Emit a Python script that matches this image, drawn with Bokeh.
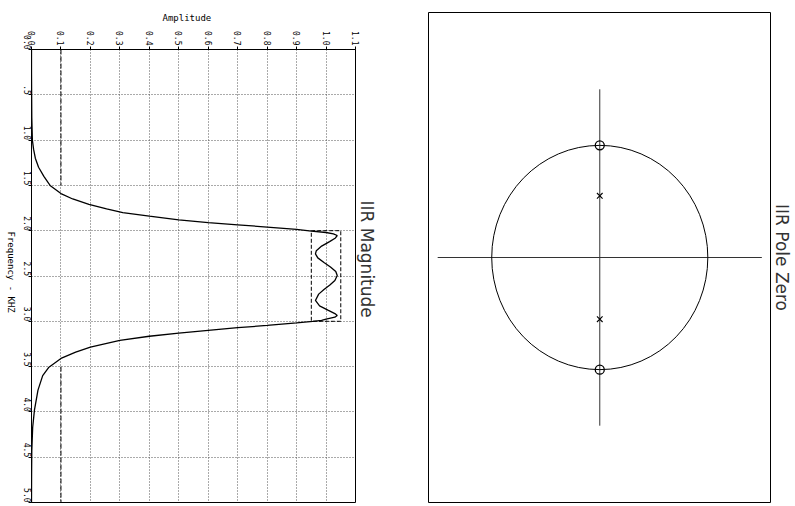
import math
from bokeh.plotting import figure
from bokeh.models import Range1d, FixedTicker, Title, PrintfTickFormatter
from bokeh.layouts import row
from bokeh.embed import file_html
from bokeh.resources import INLINE

# ---------------- data: IIR magnitude response ----------------
freq_khz = [0.0, 0.25, 0.5, 0.75, 1.0, 1.1, 1.2, 1.3, 1.4, 1.5,
            1.59, 1.65, 1.71, 1.76, 1.8, 1.84, 1.88, 1.91, 1.935, 1.96,
            1.985, 2.005, 2.02, 2.035, 2.053, 2.08, 2.12, 2.17, 2.22, 2.255,
            2.3, 2.35, 2.4, 2.45, 2.494, 2.55, 2.6, 2.65, 2.7, 2.77,
            2.83, 2.88, 2.915, 2.936, 2.955, 2.975, 2.99, 3.0, 3.017, 3.046,
            3.07, 3.1, 3.13, 3.165, 3.21, 3.285, 3.34, 3.41, 3.51, 3.6,
            3.76, 3.98, 4.17, 4.43, 4.7, 5.0]
amplitude = [0.0, 0.0, 0.0005, 0.001, 0.003, 0.007, 0.013, 0.024, 0.042, 0.063,
             0.10, 0.14, 0.195, 0.255, 0.31, 0.40, 0.50, 0.60, 0.70, 0.80,
             0.90, 0.95, 1.0, 1.025, 1.038, 1.032, 1.012, 0.985, 0.967, 0.964,
             0.972, 0.993, 1.015, 1.033, 1.038, 1.03, 1.013, 0.993, 0.975, 0.964,
             0.978, 1.008, 1.03, 1.038, 1.03, 1.0, 0.985, 0.955, 0.90, 0.80,
             0.70, 0.60, 0.50, 0.40, 0.30, 0.20, 0.15, 0.10, 0.058, 0.038,
             0.022, 0.010, 0.004, 0.001, 0.0003, 0.0]

# specification
stop_band_low = [0.0, 1.5]
stop_band_high = [3.5, 5.0]
stop_level = 0.1
pass_band = [2.0, 3.0]
pass_low = 0.95
pass_high = 1.05

amp_ticks = [0.0, 0.1, 0.2, 0.3, 0.4, 0.5, 0.6, 0.7, 0.8, 0.9, 1.0, 1.1]
freq_ticks = [0.0, 0.5, 1.0, 1.5, 2.0, 2.5, 3.0, 3.5, 4.0, 4.5, 5.0]
freq_tick_labels = ["0.0", ".5", "1.0", "1.5", "2.0", "2.5", "3.0", "3.5", "4.0", "4.5", "5.0"]

# ---------------- data: pole / zero ----------------
zeros_re = [1.0, -1.0]
zeros_im = [0.0, 0.0]
poles_re = [0.55, -0.55]
poles_im = [0.0, 0.0]
unit_radius = 1.0
axis_extent = 1.5

MONO = "DejaVu Sans Mono"
SANS = "DejaVu Sans"

# ---------------- strip carrying the rotated frequency-axis title ----------------
p0 = figure(width=17, height=506, x_range=Range1d(0, 1), y_range=Range1d(0, 1),
            x_axis_location=None, y_axis_location=None,
            output_backend="svg", toolbar_location=None,
            min_border_left=0, min_border_right=0, min_border_top=49, min_border_bottom=4)
p0.grid.visible = False
p0.outline_line_color = None
p0.add_layout(Title(text="Frequency - KHZ", align="left", offset=182, standoff=0,
                    text_font=MONO, text_font_size="9px", text_font_style="normal",
                    text_color="black"), "right")

# ---------------- left: magnitude (rotated page) ----------------
p1 = figure(width=403, height=506, x_range=Range1d(0, 1.1), y_range=Range1d(5.0, 0.0),
            x_axis_location="above", y_axis_location="left",
            output_backend="svg", toolbar_location=None,
            min_border_left=14, min_border_right=65, min_border_top=49, min_border_bottom=4)
p1.outline_line_color = "black"
p1.outline_line_width = 1

xa = p1.xaxis[0]
xa.ticker = FixedTicker(ticks=amp_ticks)
xa.formatter = PrintfTickFormatter(format="%.1f")
ya = p1.yaxis[0]
ya.ticker = FixedTicker(ticks=freq_ticks)
ya.major_label_overrides = dict(zip(freq_ticks, freq_tick_labels))
for ax in (xa, ya):
    ax.major_label_orientation = -math.pi / 2
    ax.major_label_text_font = MONO
    ax.major_label_text_font_size = "8px"
    ax.major_label_text_color = "black"
    ax.major_label_standoff = 1
    ax.major_tick_out = 3
    ax.major_tick_in = 0
    ax.minor_tick_line_color = None
    ax.axis_line_color = "black"
    ax.major_tick_line_color = "black"

p1.add_layout(Title(text="Amplitude", align="left", offset=131, standoff=11,
                    text_font=MONO, text_font_size="9px", text_font_style="normal",
                    text_color="black"), "above")

p1.xgrid.ticker = FixedTicker(ticks=amp_ticks)
p1.ygrid.ticker = FixedTicker(ticks=freq_ticks)
p1.grid.grid_line_color = "#555555"
p1.grid.grid_line_dash = "1 2"
p1.grid.grid_line_width = 1

p1.segment(x0=[stop_level, stop_level], y0=[stop_band_low[0], stop_band_high[0]],
           x1=[stop_level, stop_level], y1=[stop_band_low[1], stop_band_high[1]],
           line_color="black", line_dash="5 2", line_width=1)
p1.quad(left=[pass_low], right=[pass_high], top=[pass_band[0]], bottom=[pass_band[1]],
        fill_color=None, line_color="black", line_dash="4 2", line_width=1)
p1.line(amplitude, freq_khz, line_color="black", line_width=1.3)

p1.add_layout(Title(text="IIR Magnitude", align="left", offset=151, standoff=3,
                    text_font=SANS, text_font_size="17px", text_font_style="normal",
                    text_color="#333333"), "right")

# ---------------- right: pole-zero (rotated page) ----------------
p2 = figure(width=375, height=506, x_range=Range1d(-1.585, 1.58), y_range=Range1d(-2.185, 2.185),
            x_axis_location=None, y_axis_location=None,
            output_backend="svg", toolbar_location=None,
            min_border_left=8, min_border_right=25, min_border_top=12, min_border_bottom=4)
p2.grid.visible = False
p2.outline_line_color = "black"
p2.outline_line_width = 1

p2.segment(x0=[-axis_extent, 0.0], y0=[0.0, -axis_extent],
           x1=[axis_extent, 0.0], y1=[0.0, axis_extent],
           line_color="#333333", line_width=1)
p2.ellipse(x=[0.0], y=[0.0], width=[2 * unit_radius], height=[2 * unit_radius],
           fill_color=None, line_color="black", line_width=1)
p2.scatter(x=zeros_im, y=zeros_re, marker="circle", size=9,
           fill_color=None, line_color="black", line_width=1.3)
p2.scatter(x=poles_im, y=poles_re, marker="x", size=8,
           line_color="black", line_width=1.1)

p2.add_layout(Title(text="IIR Pole Zero", align="center", standoff=3,
                    text_font=SANS, text_font_size="17px", text_font_style="normal",
                    text_color="#333333"), "right")

for p in (p0, p1, p2):
    if "frame_align" in p.properties():
        p.frame_align = False

layout = row(p0, p1, p2)
open("out.html", "w").write(file_html(layout, INLINE))
